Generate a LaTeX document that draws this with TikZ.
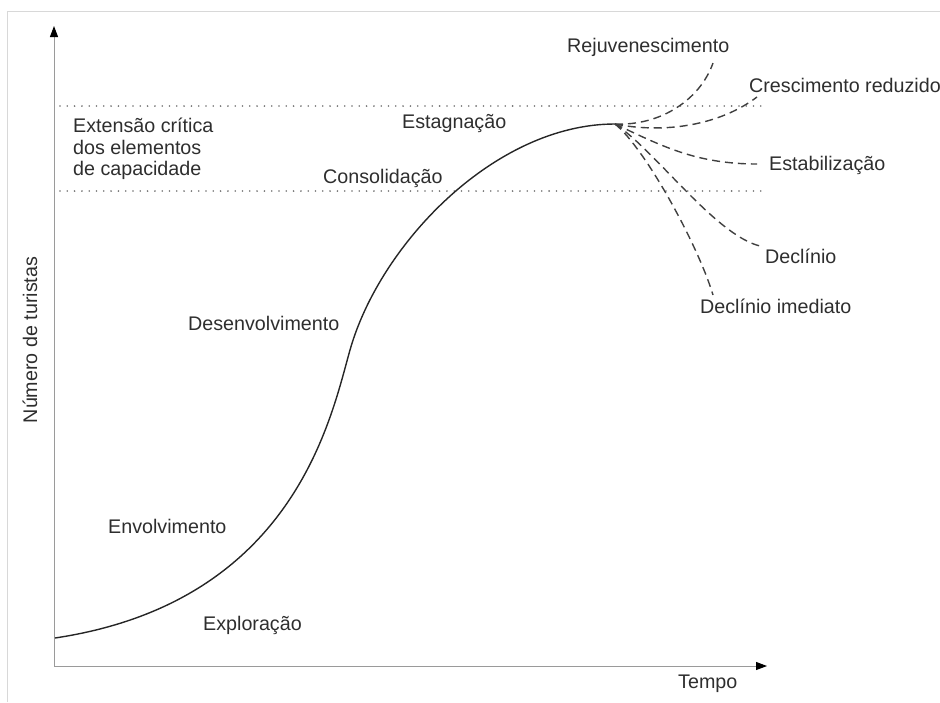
\documentclass[tikz,border=0pt]{standalone}
\usepackage{fontspec}
\setmainfont{Liberation Sans}
\usetikzlibrary{arrows.meta}
\definecolor{txt}{HTML}{2E2E2E}
\definecolor{axisgray}{HTML}{9A9A9A}
\definecolor{framegray}{HTML}{D8D8D8}
\definecolor{dotgray}{HTML}{707070}
\tikzset{
  lbl/.style={font=\fontsize{19.7}{21.5}\selectfont, text=txt, inner sep=0pt},
  axisline/.style={axisgray, line width=1pt, -{Triangle[length=11pt,width=8pt,color=black]}},
  limitline/.style={dotgray, line width=1.8pt, line cap=round, dash pattern=on 0pt off 7.3pt},
  mainline/.style={black!85, line width=1.4pt},
  branch/.style={black!75, line width=1.4pt, dash pattern=on 8pt off 5pt},
}
\begin{document}
\begin{tikzpicture}[x=1pt,y=-1pt]
\useasboundingbox (0,0) rectangle (940,702);
% frame
\draw[framegray, line width=1pt] (7,702) -- (7,11) -- (940,11);
% axes
\coordinate (O) at (54,666);
\coordinate (Ytop) at (54,26);
\coordinate (Xend) at (767,666);
\draw[axisline] (O) -- (Ytop);
\draw[axisline] (O) -- (Xend);
% capacity limits
\coordinate (L1a) at (60,106);
\coordinate (L1b) at (762,106);
\coordinate (L2a) at (60,191);
\coordinate (L2b) at (762,191);
\draw[limitline] (L1a) -- (L1b);
\draw[limitline] (L2a) -- (L2b);
% main curve
\coordinate (S) at (55,638);
\coordinate (Q) at (350,350);
\coordinate (P) at (615,124);
\draw[mainline] (S) .. controls (295,602) and (331,417) .. (Q)
  .. controls (380,244) and (495,124) .. (P);
% branches
\coordinate (Erej) at (713,63);
\coordinate (Ecre) at (757,97);
\coordinate (Eest) at (757,164);
\coordinate (Edec) at (760,246);
\coordinate (Eimd) at (713,295);
\draw[branch] (P) .. controls (660,126) and (700,100) .. (Erej);
\draw[branch] (P) .. controls (665,134) and (720,125) .. (Ecre);
\draw[branch] (P) .. controls (660,145) and (695,164) .. (Eest);
\draw[branch] (P) .. controls (655,150) and (715,235) .. (Edec);
\draw[branch] (P) .. controls (645,148) and (698,245) .. (Eimd);
% labels
\node[lbl, anchor=base west] (rej) at (567,52) {Rejuvenescimento};
\node[lbl, anchor=base west] (cre) at (749,92) {Crescimento reduzido};
\node[lbl, anchor=base west] (est) at (769,170) {Estabilização};
\node[lbl, anchor=base west] (dec) at (765,263) {Declínio};
\node[lbl, anchor=base west] (imd) at (700,313) {Declínio imediato};
\node[lbl, anchor=base west] (stg) at (402,128) {Estagnação};
\node[lbl, anchor=base west] (con) at (323,183) {Consolidação};
\node[lbl, anchor=base west] (des) at (188,330) {Desenvolvimento};
\node[lbl, anchor=base west] (env) at (108,533) {Envolvimento};
\node[lbl, anchor=base west] (exp) at (203,630) {Exploração};
\node[lbl, anchor=base west] (tem) at (678,688) {Tempo};
\node[lbl, anchor=west, align=left] (ext) at (73,149) {Extensão crítica\\dos elementos\\de capacidade};
\node[lbl, rotate=90] (num) at (30,340) {Número de turistas};
\end{tikzpicture}
\end{document}
